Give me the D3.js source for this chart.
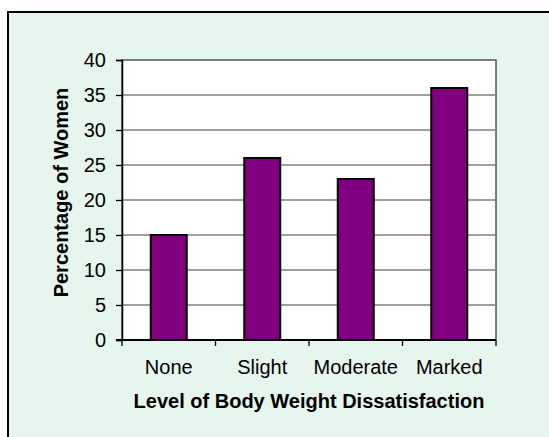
<!DOCTYPE html>
<html>
<head>
<meta charset="utf-8">
<script src="https://cdn.jsdelivr.net/npm/d3@7/dist/d3.min.js"></script>
<style>
html,body{margin:0;padding:0;background:#fff;}
svg{display:block;font-family:"Liberation Sans",Arial,sans-serif;}
</style>
</head>
<body>
<svg id="chart" width="549" height="437"></svg>
<script>
const categories = ["None", "Slight", "Moderate", "Marked"];
const values = [15, 26, 23, 36];
const yTicks = [0, 5, 10, 15, 20, 25, 30, 35, 40];
const xTitle = "Level of Body Weight Dissatisfaction";
const yTitle = "Percentage of Women";

const svg = d3.select("#chart");
const W = 549, H = 437;
const plot = {left: 122, right: 496, top: 60, bottom: 340};

// outer frame
svg.append("rect").attr("x", 8).attr("y", 12).attr("width", 560).attr("height", 460)
  .attr("fill", "#E6F5EE").attr("stroke", "#000").attr("stroke-width", 2);

// plot background
svg.append("rect").attr("x", plot.left).attr("y", plot.top)
  .attr("width", plot.right - plot.left).attr("height", plot.bottom - plot.top)
  .attr("fill", "#fff").attr("stroke", "#555").attr("stroke-width", 1.5);

const x = d3.scaleBand().domain(categories).range([plot.left, plot.right]).paddingInner(0.615).paddingOuter(0.3075);
const xc = d3.scalePoint().domain(categories).range([plot.left, plot.right]).padding(0.5);
const y = d3.scaleLinear().domain([0, 40]).range([plot.bottom, plot.top]);

// gridlines
svg.append("g").selectAll("line").data(yTicks.filter(t => t > 0 && t < 40)).join("line")
  .attr("x1", plot.left).attr("x2", plot.right)
  .attr("y1", d => y(d)).attr("y2", d => y(d))
  .attr("stroke", "#808080").attr("stroke-width", 1.3);

// bars
svg.append("g").selectAll("rect").data(values).join("rect")
  .attr("x", (d, i) => x(categories[i]))
  .attr("y", d => y(d))
  .attr("width", x.bandwidth())
  .attr("height", d => y(0) - y(d))
  .attr("fill", "#800080").attr("stroke", "#000").attr("stroke-width", 2);

// y axis
const yAxis = d3.axisLeft(y).tickValues(yTicks).tickSize(6).tickPadding(10);
const ga = svg.append("g").attr("transform", `translate(${plot.left},0)`).call(yAxis);
ga.select(".domain").attr("stroke", "#000").attr("stroke-width", 1.5);
ga.selectAll(".tick line").attr("stroke", "#000").attr("stroke-width", 1.3);
ga.selectAll(".tick text").attr("font-size", 20).attr("fill", "#000")
  .attr("font-family", "Liberation Sans, Arial, sans-serif");

// x axis (ticks at category boundaries)
const gx = svg.append("g");
gx.append("line").attr("x1", plot.left - 6).attr("x2", plot.right)
  .attr("y1", plot.bottom).attr("y2", plot.bottom).attr("stroke", "#000").attr("stroke-width", 2);
const bounds = d3.range(categories.length + 1).map(i => plot.left + i * x.step());
gx.selectAll("line.xt").data(bounds).join("line").attr("class", "xt")
  .attr("x1", d => d).attr("x2", d => d).attr("y1", plot.bottom).attr("y2", plot.bottom + 6)
  .attr("stroke", "#000").attr("stroke-width", 1.3);
gx.selectAll("text").data(categories).join("text")
  .attr("x", d => xc(d)).attr("y", 373.5).attr("text-anchor", "middle")
  .attr("font-size", 20).attr("fill", "#000").text(d => d);

// titles
svg.append("text").attr("x", 309).attr("y", 407.5).attr("text-anchor", "middle")
  .attr("font-size", 20).attr("font-weight", "bold").attr("fill", "#000").text(xTitle);
svg.append("text").attr("transform", "translate(67.5,192.5) rotate(-90)").attr("text-anchor", "middle")
  .attr("font-size", 20).attr("font-weight", "bold").attr("fill", "#000").text(yTitle);
</script>
</body>
</html>
